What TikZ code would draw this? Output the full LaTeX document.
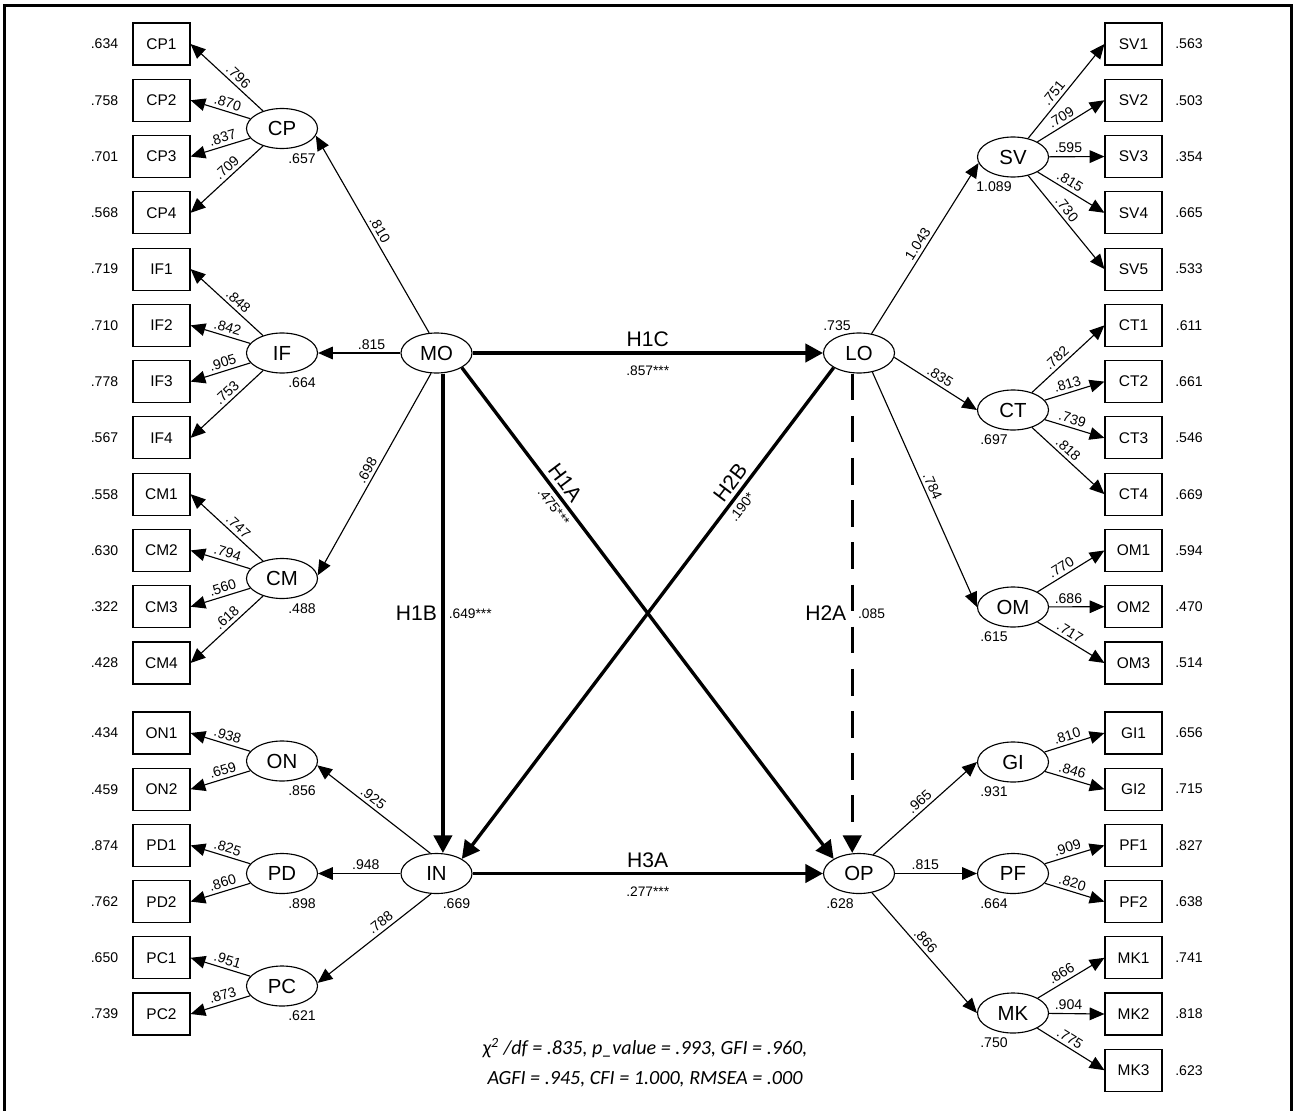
\documentclass[tikz,border=0pt]{standalone}
\usepackage{fontspec}
\setmainfont{Liberation Sans}
\newfontfamily\fitfont{Carlito}
\usetikzlibrary{arrows.meta,shapes.geometric}
\tikzset{
obs/.style={draw, line width=0.8pt, minimum width=1.425cm, minimum height=1.05cm, inner sep=0pt, font=\fontsize{11}{13}\selectfont},
lat/.style={draw, ellipse, line width=0.8pt, minimum width=1.775cm, minimum height=1cm, inner sep=0pt, font=\fontsize{14.5}{16}\selectfont},
num/.style={font=\fontsize{10}{12}\selectfont, inner sep=1.5pt},
lab/.style={num, inner sep=2.2pt, sloped, above, pos=.5},
hyp/.style={font=\fontsize{15}{17}\selectfont, inner sep=3pt},
coef/.style={font=\fontsize{9.8}{11}\selectfont, inner sep=3pt},
thinarr/.style={line width=0.8pt, -{Triangle[length=10.5pt,width=9pt]}},
thickarr/.style={line width=2.4pt, -{Triangle[length=12.5pt,width=13pt]}}
}
\begin{document}
\begin{tikzpicture}[x=0.025cm,y=-0.025cm]
\useasboundingbox (0,0) rectangle (1293,1110);
\draw[line width=2.1pt] (4.5,1115) -- (4.5,5.3) -- (1291.5,5.3) -- (1291.5,1115);

\foreach \ob/\er [count=\i from 0] in {CP1/.634,CP2/.758,CP3/.701,CP4/.568,IF1/.719,IF2/.710,IF3/.778,IF4/.567,CM1/.558,CM2/.630,CM3/.322,CM4/.428}
{
\node[obs] (\ob) at (161.5,{44+56.27*\i}) {\ob};
\node[num] at (104.5,{44+56.27*\i}) {\er};
}
\foreach \ob/\er [count=\i from 0] in {ON1/.434,ON2/.459,PD1/.874,PD2/.762,PC1/.650,PC2/.739}
{
\node[obs] (\ob) at (161.5,{733+56.2*\i}) {\ob};
\node[num] at (104.5,{733+56.2*\i}) {\er};
}
\foreach \ob/\er [count=\i from 0] in {SV1/.563,SV2/.503,SV3/.354,SV4/.665,SV5/.533,CT1/.611,CT2/.661,CT3/.546,CT4/.669,OM1/.594,OM2/.470,OM3/.514}
{
\node[obs] (\ob) at (1133.5,{44+56.27*\i}) {\ob};
\node[num] at (1189,{44+56.27*\i}) {\er};
}
\foreach \ob/\er [count=\i from 0] in {GI1/.656,GI2/.715,PF1/.827,PF2/.638,MK1/.741,MK2/.818,MK3/.623}
{
\node[obs] (\ob) at (1133.5,{733+56.2*\i}) {\ob};
\node[num] at (1189,{733+56.2*\i}) {\er};
}

\foreach \lv/\y in {CP/128.5,IF/353,CM/578.5,ON/761,PD/873.5,PC/986}
\node[lat] (\lv) at (282,\y) {\lv};
\foreach \lv/\y in {SV/157,CT/410,OM/607,GI/762,PF/873.5,MK/1013}
\node[lat] (\lv) at (1013,\y) {\lv};
\node[lat] (MO) at (436.5,353) {MO};
\node[lat] (IN) at (436.5,873.5) {IN};
\node[lat] (LO) at (859,353) {LO};
\node[lat] (OP) at (859,873.5) {OP};

\foreach \lv/\t in {CP/.657,IF/.664,CM/.488,ON/.856,PD/.898,PC/.621,IN/.669}
\node[num] at ([shift={(20,30)}]\lv) {\t};
\foreach \lv/\t in {SV/1.089,CT/.697,OM/.615,GI/.931,PF/.664,MK/.750,OP/.628}
\node[num] at ([shift={(-19,30)}]\lv) {\t};
\node[num] at ([shift={(-22,-27)}]LO) {.735};

\foreach \lv/\ob/\ld/\p in {CP/CP1/.796/.42,CP/CP2/.870/.42,CP/CP3/.837/.42,CP/CP4/.709/.42,
IF/IF1/.848/.42,IF/IF2/.842/.42,IF/IF3/.905/.42,IF/IF4/.753/.42,
CM/CM1/.747/.42,CM/CM2/.794/.42,CM/CM3/.560/.42,CM/CM4/.618/.42,
ON/ON1/.938/.42,ON/ON2/.659/.42,PD/PD1/.825/.42,PD/PD2/.860/.42,PC/PC1/.951/.42,PC/PC2/.873/.42}
\draw[thinarr] (\lv) -- (\ob.east) node[lab, pos=\p] {\ld};
\foreach \lv/\ob/\ld/\p in {SV/SV1/.751/.42,SV/SV2/.709/.42,SV/SV3/.595/.35,SV/SV4/.815/.42,SV/SV5/.730/.42,
CT/CT1/.782/.42,CT/CT2/.813/.42,CT/CT3/.739/.42,CT/CT4/.818/.42,
OM/OM1/.770/.42,OM/OM2/.686/.35,OM/OM3/.717/.42,
GI/GI1/.810/.42,GI/GI2/.846/.42,PF/PF1/.909/.42,PF/PF2/.820/.42,
MK/MK1/.866/.42,MK/MK2/.904/.35,MK/MK3/.775/.42}
\draw[thinarr] (\lv) -- (\ob.west) node[lab, pos=\p] {\ld};

\draw[thinarr] (MO.110) -- (CP.-12) node[lab] {.810};
\draw[thinarr] (MO) -- (IF) node[lab, pos=.35] {.815};
\draw[thinarr] (MO.-105) -- (CM.5) node[lab] {.698};
\draw[thinarr] (IN.107) -- (ON.-7) node[lab, pos=.55] {.925};
\draw[thinarr] (IN) -- (PD) node[lab, pos=.42] {.948};
\draw[thinarr] (IN.-105) -- (PC.5) node[lab, pos=.4] {.788};
\draw[thinarr] (LO.57) -- (SV.190) node[lab] {1.043};
\draw[thinarr] (LO.-7) -- (CT.west) node[lab] {.835};
\draw[thinarr] (LO.-55) -- (OM.west) node[lab] {.784};
\draw[thinarr] (OP.53) -- (GI.west) node[lab] {.965};
\draw[thinarr] (OP) -- (PF) node[lab, pos=.37] {.815};
\draw[thinarr] (OP.-56) -- (MK.west) node[lab, pos=.45] {.866};

\draw[thickarr] (MO) -- (LO) node[hyp, above, midway] {H1C} node[coef, below=5pt, midway] {.857***};
\draw[thickarr] ([xshift=0.16cm]MO.south) -- ([xshift=0.16cm]IN.north) node[hyp, left, pos=.5] {H1B} node[coef, right, pos=.5] {.649***};
\draw[thickarr] (MO.-30) -- (OP.150) node[hyp, above, sloped, pos=.25] {H1A} node[coef, below, sloped, pos=.27] {.475***};
\draw[thickarr] (LO.-150) -- (IN.30) node[hyp, above, sloped, pos=.25] {H2B} node[coef, below, sloped, pos=.27] {.190*};
\draw[thickarr, dash pattern=on 19pt off 11pt] ([xshift=-0.17cm]LO.south) -- ([xshift=-0.17cm]OP.north) node[hyp, left, pos=.5] {H2A} node[coef, right, pos=.5] {.085};
\draw[thickarr] (IN) -- (OP) node[hyp, above, midway] {H3A} node[coef, below=5pt, midway] {.277***};

\node[font=\fitfont\itshape\fontsize{14.3}{21.3}\selectfont, align=center] (fit) at (645,1063) {χ\textsuperscript{2} /df = .835, p\_value = .993, GFI = .960,\\AGFI = .945, CFI = 1.000, RMSEA = .000};
\end{tikzpicture}
\end{document}
